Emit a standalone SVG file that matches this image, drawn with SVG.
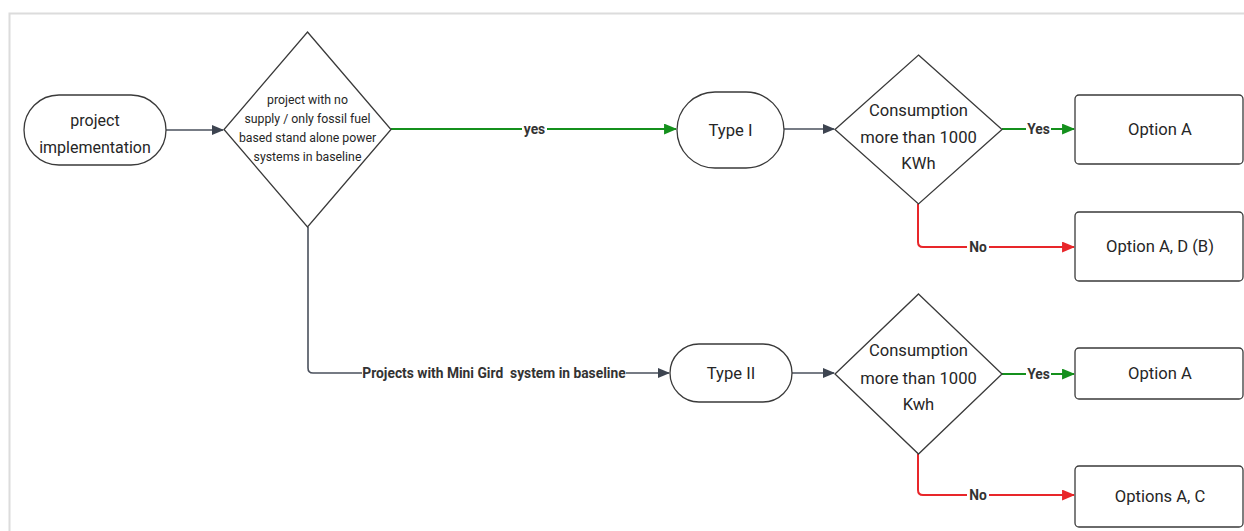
<svg xmlns="http://www.w3.org/2000/svg" width="1244" height="531" viewBox="0 0 1244 531">
<style>
.node{fill:#fff;stroke:#3a3a3a;stroke-width:1.3}
.t{font-family:Roboto,"Liberation Sans",sans-serif;fill:#262626;text-anchor:middle}
.big{font-size:16.6px}
.small{font-size:12.3px}
.lbl{font-family:Roboto,"Liberation Sans",sans-serif;font-size:13.8px;font-weight:bold;fill:#333;text-anchor:middle}
.c{fill:none;stroke-width:2}
.gray{stroke:#4a505c;stroke-width:1.6}
.green{stroke:#14901c}
.red{stroke:#e8262a}
.bg{fill:#fff}
</style>
<defs>
<marker id="ag" viewBox="0 0 12 10" refX="11" refY="5" markerWidth="12" markerHeight="10" markerUnits="userSpaceOnUse" orient="auto"><path d="M0,0 L12,5 L0,10 Z" fill="#3d4450"/></marker>
<marker id="agr" viewBox="0 0 12 10" refX="11" refY="5" markerWidth="13" markerHeight="11" markerUnits="userSpaceOnUse" orient="auto"><path d="M0,0 L12,5 L0,10 Z" fill="#14901c"/></marker>
<marker id="ar" viewBox="0 0 12 10" refX="11" refY="5" markerWidth="13" markerHeight="11" markerUnits="userSpaceOnUse" orient="auto"><path d="M0,0 L12,5 L0,10 Z" fill="#e8262a"/></marker>
</defs>
<rect width="1244" height="531" fill="#fff"/>
<g id="frame" fill="none" stroke="#dcdcdc" stroke-width="2">
<path d="M9.5,531 L9.5,13.5 L1244,13.5"/>
</g>
<g id="connectors">
<path class="c gray" d="M166,130 L223,130" marker-end="url(#ag)"/>
<path class="c green" d="M391,129 L676,129" marker-end="url(#agr)"/>
<path class="c gray" d="M784,129 L834,129" marker-end="url(#ag)"/>
<path class="c green" d="M1002,129 L1074,129" marker-end="url(#agr)"/>
<path class="c red" d="M918,204 L918,242 Q918,247 923,247 L1074,247" marker-end="url(#ar)"/>
<path class="c gray" d="M308,227 L308,368 Q308,373 313,373 L669,373" marker-end="url(#ag)"/>
<path class="c gray" d="M792,373 L834,373" marker-end="url(#ag)"/>
<path class="c green" d="M1002,374 L1074,374" marker-end="url(#agr)"/>
<path class="c red" d="M918,454 L918,490 Q918,495 923,495 L1074,495" marker-end="url(#ar)"/>
<rect class="bg" x="522" y="122" width="25" height="15"/>
<text class="lbl" x="534.5" y="134">yes</text>
<rect class="bg" x="1026" y="122" width="25" height="15"/>
<text class="lbl" x="1038.5" y="134">Yes</text>
<rect class="bg" x="967" y="240" width="22" height="15"/>
<text class="lbl" x="978" y="252">No</text>
<rect class="bg" x="362" y="366" width="264" height="15"/>
<text class="lbl" x="494" y="378" xml:space="preserve">Projects with Mini Gird  system in baseline</text>
<rect class="bg" x="1026" y="367" width="25" height="15"/>
<text class="lbl" x="1038.5" y="379">Yes</text>
<rect class="bg" x="967" y="488" width="22" height="15"/>
<text class="lbl" x="978" y="500">No</text>
</g>
<g id="n-start">
<rect class="node" x="24" y="95" width="142" height="70" rx="35"/>
<text class="t" x="95" y="126" style="font-size:16px">project</text>
<text class="t" x="95" y="153" style="font-size:16px">implementation</text>
</g>
<g id="n-dec1">
<path class="node" d="M307.5,32 L391,129.5 L307.5,227 L224,129.5 Z"/>
<text class="t small" x="307.5" y="104">project with no</text>
<text class="t small" x="307.5" y="123">supply / only fossil fuel</text>
<text class="t small" x="307.5" y="142">based stand alone power</text>
<text class="t small" x="307.5" y="161">systems in baseline</text>
</g>
<g id="n-type1">
<rect class="node" x="677" y="92" width="107" height="76" rx="38"/>
<text class="t big" x="730.5" y="136">Type I</text>
</g>
<g id="n-dec2">
<path class="node" d="M918.5,55 L1002,129.5 L918.5,204 L835,129.5 Z"/>
<text class="t big" x="918.5" y="116">Consumption</text>
<text class="t big" x="918.5" y="143">more than 1000</text>
<text class="t big" x="918.5" y="169">KWh</text>
</g>
<g id="n-optA1">
<rect class="node" x="1075" y="95" width="168" height="69" rx="4"/>
<text class="t big" x="1160" y="135">Option A</text>
</g>
<g id="n-optAD">
<rect class="node" x="1075" y="212" width="168" height="69" rx="4"/>
<text class="t big" x="1160" y="252">Option A, D (B)</text>
</g>
<g id="n-type2">
<rect class="node" x="670" y="344" width="122" height="58" rx="29"/>
<text class="t big" x="731" y="379">Type II</text>
</g>
<g id="n-dec3">
<path class="node" d="M918.5,294 L1002,374 L918.5,454 L835,374 Z"/>
<text class="t big" x="918.5" y="356">Consumption</text>
<text class="t big" x="918.5" y="384">more than 1000</text>
<text class="t big" x="918.5" y="410">Kwh</text>
</g>
<g id="n-optA2">
<rect class="node" x="1075" y="348" width="168" height="51" rx="4"/>
<text class="t big" x="1160" y="379">Option A</text>
</g>
<g id="n-optAC">
<rect class="node" x="1075" y="466" width="168" height="61" rx="4"/>
<text class="t big" x="1160" y="502">Options A, C</text>
</g>
</svg>
